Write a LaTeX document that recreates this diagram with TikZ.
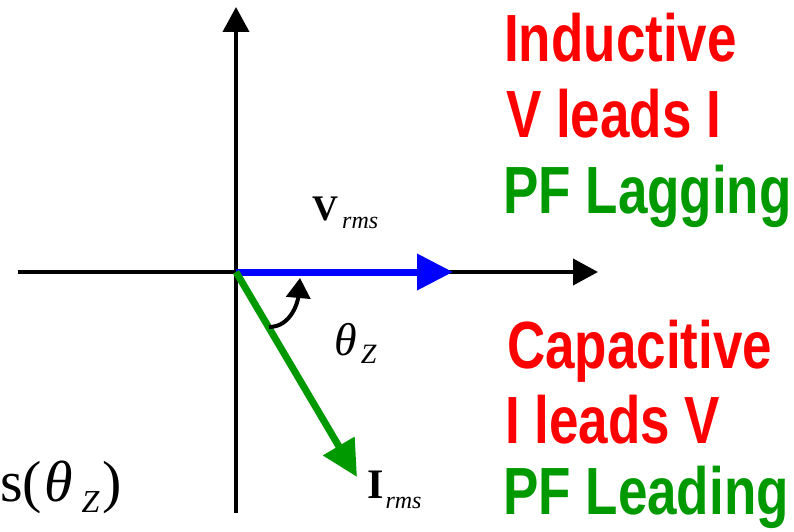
\documentclass[tikz,border=0pt]{standalone}
\usepackage{fontspec}
\usepackage{graphicx}
\setmainfont{Liberation Serif}
\newfontfamily\arialfont{Liberation Sans}
\usetikzlibrary{arrows.meta}
\definecolor{pfred}{RGB}{255,0,0}
\definecolor{pfgreen}{RGB}{0,153,0}
\definecolor{vblue}{RGB}{0,0,255}
\tikzset{
  axis/.style={line width=4pt, -{Triangle[length=25pt,width=26pt]}},
  phasor/.style={line width=7pt, -{Triangle[length=36pt,width=35pt]}},
  anglearrow/.style={line width=4pt, -{Triangle[length=20pt,width=24pt]}},
  bigtxt/.style={anchor=base west, inner sep=0pt, font=\arialfont\bfseries\fontsize{53}{53}\selectfont},
  mathlbl/.style={anchor=base west, inner sep=0pt}
}
\begin{document}
\begin{tikzpicture}[x=1pt,y=-1pt]
\useasboundingbox (0,0) rectangle (794,532);
\coordinate (O) at (236,272);
\coordinate (ytop) at (236,7);
\coordinate (ybot) at (236,513);
\coordinate (xleft) at (18,272);
\coordinate (xright) at (598,272);
\coordinate (vtip) at (453,272);
\coordinate (itip) at (357,477);
\coordinate (arcS) at (269,327);
\coordinate (arcE) at (300,278);
\draw[axis] (ybot) -- (ytop);
\draw[axis] (xleft) -- (xright);
\draw[phasor, vblue] (O) -- (vtip);
\draw[phasor, pfgreen] (O) -- (itip);
\draw[anglearrow] (arcS) to[out=0,in=-95] (arcE);
% labels
\node[mathlbl] (vlbl) at (312,220) {\fontsize{36}{36}\selectfont\textbf{V}\kern4pt\raisebox{-8pt}{\fontsize{24}{24}\selectfont\textit{rms}}};
\node[mathlbl] (thlbl) at (334,355) {\fontsize{46}{46}\selectfont\textit{θ}\kern4pt\raisebox{-8pt}{\fontsize{28}{28}\selectfont\textit{Z}}};
\node[mathlbl] (ilbl) at (367,498) {\fontsize{42}{42}\selectfont\textbf{I}\kern2pt\raisebox{-10pt}{\fontsize{24}{24}\selectfont\textit{rms}}};
\node[mathlbl] (pf) at (0,501) {\fontsize{58}{58}\selectfont s(\kern2pt\textit{θ}\kern9pt\raisebox{-11pt}{\fontsize{32}{32}\selectfont\textit{Z}}\kern3pt)};
% right texts
\node[bigtxt, text=pfred] (ind) at (504,62) {\scalebox{1}[1.26]{Inductive}};
\node[bigtxt, text=pfred] (vli) at (506,137) {\scalebox{1}[1.26]{V leads I}};
\node[bigtxt, text=pfgreen] (lag) at (503,213) {\scalebox{1}[1.26]{PF Lagging}};
\node[bigtxt, text=pfred] (cap) at (507,368) {\scalebox{1}[1.26]{Capacitive}};
\node[bigtxt, text=pfred] (ilv) at (505,443) {\scalebox{1}[1.26]{I leads V}};
\node[bigtxt, text=pfgreen] (lead) at (503,514) {\scalebox{1}[1.26]{PF Leading}};
\end{tikzpicture}
\end{document}
